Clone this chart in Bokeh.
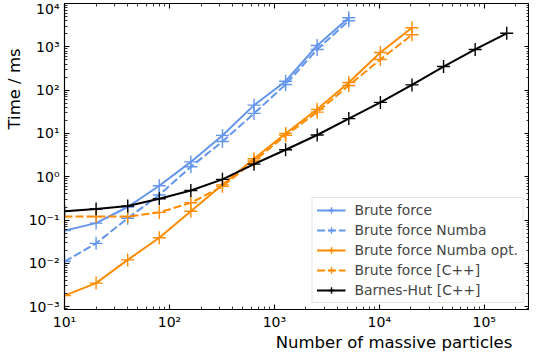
import math
from bokeh.plotting import figure
from bokeh.models import (Legend, LegendItem, LogAxis, FixedTicker, CustomJSTickFormatter, Title)
from bokeh.embed import file_html
from bokeh.resources import INLINE

# ---- data ----
n_particles = [10, 20, 40, 80, 160, 320, 640, 1280, 2560, 5120, 10240, 20480, 40960, 81920, 163840]
brute_force = [0.057, 0.085, 0.2, 0.62, 2.2, 9.0, 45, 160, 1070, 4700]
brute_numba = [0.011, 0.029, 0.11, 0.38, 1.7, 6.5, 29, 135, 870, 4000]
brute_numba_opt = [0.0018, 0.0035, 0.012, 0.039, 0.16, 0.65, 2.6, 10, 36, 150, 740, 2750]
brute_cpp = [0.12, 0.12, 0.12, 0.15, 0.25, 0.6, 2.3, 9.0, 31, 128, 510, 1900]
barnes_hut = [0.16, 0.18, 0.21, 0.31, 0.48, 0.87, 1.95, 4.2, 9.2, 22, 52, 132, 350, 870, 2050]

series = [
    ("Brute force", brute_force, "#6495ED", "solid"),
    ("Brute force Numba", brute_numba, "#6495ED", "8 3"),
    ("Brute force Numba opt.", brute_numba_opt, "#FF8C00", "solid"),
    ("Brute force [C++]", brute_cpp, "#FF8C00", "8 3"),
    ("Barnes-Hut [C++]", barnes_hut, "black", "solid"),
]

x_major = [10.0 ** k for k in range(1, 6)]
y_major = [10.0 ** k for k in range(-3, 5)]
x_minor = [m * 10.0 ** k for k in range(0, 6) for m in range(2, 10)]
y_minor = [m * 10.0 ** k for k in range(-4, 5) for m in range(2, 10)]

FONT = "DejaVu Sans"
XLABEL = "Number of massive particles"

p = figure(width=529, height=354, x_axis_type="log", y_axis_type="log",
           x_range=(10, 2.7e5), y_range=(8.6e-4, 1e4),
           output_backend="svg", toolbar_location=None,
           min_border_left=0, min_border_right=0, min_border_top=3, min_border_bottom=0)
p.grid.visible = False
p.outline_line_color = "black"
p.outline_line_width = 1.1

sup = CustomJSTickFormatter(code="""
const m = {'-':'\u207b','0':'\u2070','1':'\u00b9','2':'\u00b2','3':'\u00b3','4':'\u2074','5':'\u2075','6':'\u2076','7':'\u2077','8':'\u2078','9':'\u2079'};
const e = String(Math.round(Math.log10(tick)));
let s = '';
for (const c of e) s += m[c];
return '10' + s;
""")

def style(ax, major, minor, labels=True):
    ax.ticker = FixedTicker(ticks=major, minor_ticks=minor)
    ax.major_tick_in = 5
    ax.major_tick_out = 0
    ax.minor_tick_in = 3
    ax.minor_tick_out = 0
    ax.major_tick_line_width = 1.1
    ax.minor_tick_line_width = 0.8
    ax.axis_line_width = 1.1
    ax.axis_label = None
    if labels:
        ax.formatter = sup
        ax.major_label_text_font = FONT
        ax.major_label_text_font_size = "14px"
        ax.major_label_text_color = "black"
        ax.major_label_standoff = 4
    else:
        ax.major_label_text_font_size = "2px"
        ax.major_label_text_alpha = 0
        ax.major_label_standoff = 1

style(p.xaxis[0], x_major, x_minor)
style(p.yaxis[0], y_major, y_minor)
p.yaxis[0].major_label_standoff = 5

xa = p.xaxis[0]
xa.axis_label = "\u00a0" * 37 + XLABEL
xa.axis_label_text_font = FONT
xa.axis_label_text_font_size = "16.5px"
xa.axis_label_text_font_style = "normal"
xa.axis_label_text_color = "black"
xa.axis_label_standoff = 0

top = LogAxis()
right = LogAxis()
style(top, x_major, x_minor, labels=False)
style(right, y_major, y_minor, labels=False)
right.major_label_standoff = 0
p.add_layout(top, "above")
p.add_layout(right, "right")

items = []
for name, vals, color, dash in series:
    xs = n_particles[:len(vals)]
    r1 = p.line(xs, vals, line_color=color, line_width=2, line_dash=dash)
    r2 = p.scatter(xs, vals, marker="cross", size=13, line_color=color, line_width=1.4)
    items.append(LegendItem(label=name, renderers=[r1, r2]))

legend = Legend(items=items, location="bottom_right",
                label_text_font=FONT, label_text_font_size="13.9px",
                glyph_width=29, glyph_height=16, spacing=4, padding=4,
                label_standoff=9, margin=6,
                border_line_color="#cccccc", border_line_width=1,
                background_fill_color="white", background_fill_alpha=0.8)
p.add_layout(legend, "center")

ylab = Title(text="Time / ms", align="left", offset=180,
             text_font=FONT, text_font_size="16.5px", text_font_style="normal",
             text_color="black", standoff=4)
p.add_layout(ylab, "left")

open("out.html", "w").write(file_html(p, INLINE))
